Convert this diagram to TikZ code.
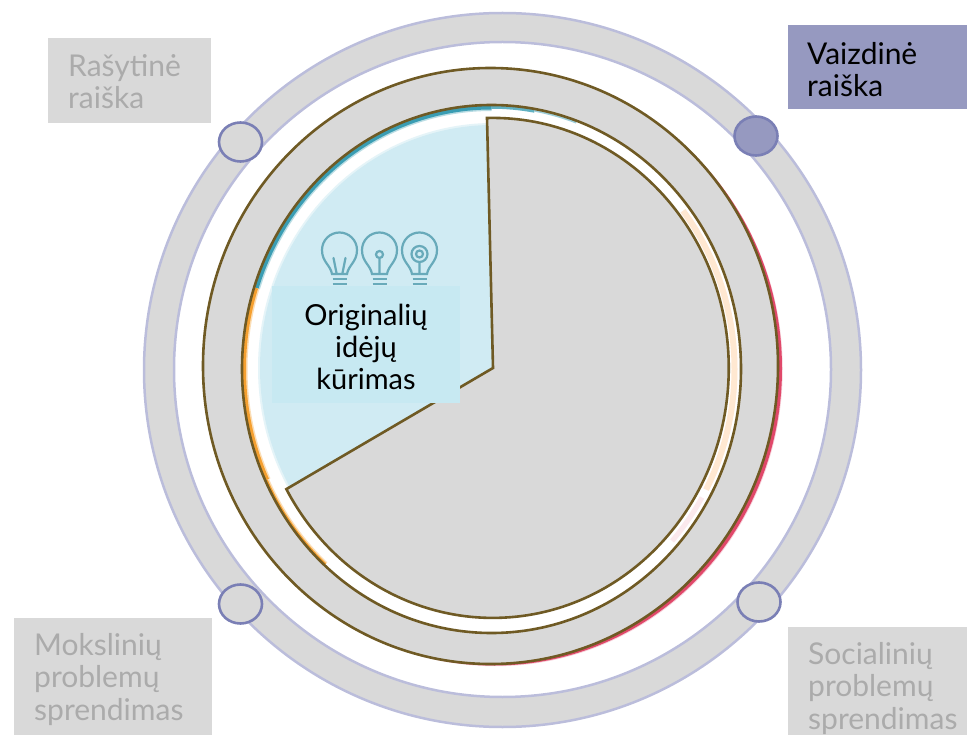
\documentclass[tikz,border=0pt]{standalone}
\usepackage{fontspec}
\usetikzlibrary{calc}
\setmainfont{Lato}
\definecolor{gr}{HTML}{D9D9D9}
\definecolor{lav}{HTML}{BBBDDB}
\definecolor{brn}{HTML}{6F5A24}
\definecolor{dot}{HTML}{7A7FB5}
\definecolor{act}{HTML}{9699C0}
\definecolor{gtxt}{HTML}{ABABAB}
\definecolor{sky}{HTML}{D0EBF3}
\definecolor{skybox}{HTML}{C7E9F2}
\definecolor{teal1}{HTML}{3A9DB3}
\definecolor{org}{HTML}{F5A030}
\definecolor{rd}{HTML}{E0486A}
\definecolor{lamp}{HTML}{68AABA}
\tikzset{
  brownline/.style={draw=brn,line width=2.6pt},
  knob/.style={draw=dot,line width=2.6pt,fill=gr},
  knobon/.style={draw=dot,line width=2.6pt,fill=act},
  labelbox/.style={fill=gr},
  labeltext/.style={anchor=north west,align=left,inner sep=0pt,text=gtxt,font=\fontsize{30}{32.5}\selectfont},
  lampline/.style={draw=lamp,line width=2.2pt,line cap=round},
  innerarc/.style={x radius=249.5pt,y radius=264pt},
  pics/bulb/.style={code={
    \draw[lampline] (-7.5,24) .. controls (-9,15) and (-17.5,12) .. (-17.5,0)
       arc[start angle=180,end angle=0,x radius=17.5pt,y radius=17.5pt]
       .. controls (17.5,12) and (9,15) .. (7.5,24) -- cycle;
    \draw[draw=lamp,line width=2.8pt] (-7,29) -- (7,29) (-7,34) -- (7,34);
  }}
}
\begin{document}
\begin{tikzpicture}[x=1pt,y=-1pt]
\useasboundingbox (0,0) rectangle (967,735);
% outer ring
\path[fill=gr,even odd rule,draw=lav,line width=2.5pt]
  (502.5,370) circle[x radius=358.5pt,y radius=357pt]
  (502.5,369.5) circle[x radius=328.5pt,y radius=327.5pt];
% red crescent along the middle circle
\fill[rd!25!white] (495.2,369.2) circle[x radius=287.5pt,y radius=297pt];
\fill[rd] (494.5,368.5) circle[x radius=287.5pt,y radius=297pt];
% middle circle
\path[fill=gr,brownline] (490.5,366) circle[x radius=287.5pt,y radius=298pt];
% inner white ellipse with coloured edges
\fill[white] (491.5,369) circle[innerarc];
\begin{scope}
  \clip (491.5,369) circle[innerarc];
  \coordinate (inner) at (491.5,369);
  \draw[teal1!35!white,line width=12pt] ($(inner)+(162:249.5pt and 264pt)$) arc[start angle=162,end angle=90,innerarc];
  \draw[teal1,line width=9pt] ($(inner)+(162:249.5pt and 264pt)$) arc[start angle=162,end angle=90,innerarc];
  \draw[teal1!80!white,line width=7.5pt] ($(inner)+(90:249.5pt and 264pt)$) arc[start angle=90,end angle=80,innerarc];
  \draw[teal1!50!white,line width=5.5pt] ($(inner)+(80:249.5pt and 264pt)$) arc[start angle=80,end angle=70,innerarc];
  \draw[org!35!white,line width=11pt] ($(inner)+(162:249.5pt and 264pt)$) arc[start angle=162,end angle=205,innerarc];
  \draw[org,line width=8pt] ($(inner)+(162:249.5pt and 264pt)$) arc[start angle=162,end angle=205,innerarc];
  \draw[org!35!white,line width=8pt] ($(inner)+(205:249.5pt and 264pt)$) arc[start angle=205,end angle=228,innerarc];
  \draw[org,line width=5pt] ($(inner)+(205:249.5pt and 264pt)$) arc[start angle=205,end angle=228,innerarc];
  \draw[orange!18!white,line width=6pt] ($(inner)+(38:243pt and 257pt)$)
     arc[start angle=38,end angle=-28,x radius=243pt,y radius=257pt];
  \draw[rd!12!white,line width=5pt] ($(inner)+(-30:243pt and 257pt)$)
     arc[start angle=-30,end angle=-42,x radius=243pt,y radius=257pt];
\end{scope}
\path[brownline] (491.5,369) circle[innerarc];
% light blue sector
\fill[sky!55!white] (493,368) circle[x radius=235pt,y radius=245pt];
\fill[sky] (493,368) circle[x radius=233pt,y radius=243pt];
% pie
\coordinate (pc) at (493,368);
\coordinate (ps) at (487,118);
\path[fill=gr,brownline,line join=miter] (pc) -- (ps)
  arc[start angle=91.4,end angle=-151,x radius=236pt,y radius=250pt] -- cycle;
% bulbs
\pic at (339.5,250) {bulb};
\pic at (379.5,250) {bulb};
\pic at (419.5,250) {bulb};
\draw[lampline] (333.5,258) -- (336.5,273) (345.5,258) -- (342.5,273);
\draw[lampline] (379.5,254.5) circle[radius=3.5pt] (379.5,258) -- (379.5,273);
\draw[lampline] (419.5,254) circle[radius=8pt] (419.5,254) circle[radius=3.5pt] (419.5,262) -- (419.5,273);
% centre label
\node[fill=skybox,inner sep=0pt,minimum width=188pt,minimum height=117pt] (boxc) at (366,344.5) {};
\node[align=center,inner sep=0pt,text=black,font=\fontsize{29}{32}\selectfont] (txtc) at (366,346.5) {Originalių\\idėjų\\kūrimas};
% corner labels
\path[labelbox] (48,38) rectangle (211,123);
\node[labeltext] (ras) at (68,54) {Rašytinė\\raiška};
\path[fill=act] (788,25) rectangle (967,109);
\node[labeltext,text=black] (vai) at (807,42) {Vaizdinė\\raiška};
\path[labelbox] (14,618) rectangle (212,735);
\node[labeltext] (mok) at (34,633) {Mokslinių\\problemų\\sprendimas};
\path[labelbox] (788,627) rectangle (967,735);
\node[labeltext] (soc) at (808,642) {Socialinių\\problemų\\sprendimas};
% knobs
\path[knob] (240.5,142) circle[x radius=21.5pt,y radius=19.5pt];
\path[knobon] (756,136) circle[x radius=21.5pt,y radius=19.5pt];
\path[knob] (240.5,604) circle[x radius=21.5pt,y radius=19.5pt];
\path[knob] (759,602) circle[x radius=21.5pt,y radius=19.5pt];
\end{tikzpicture}
\end{document}
